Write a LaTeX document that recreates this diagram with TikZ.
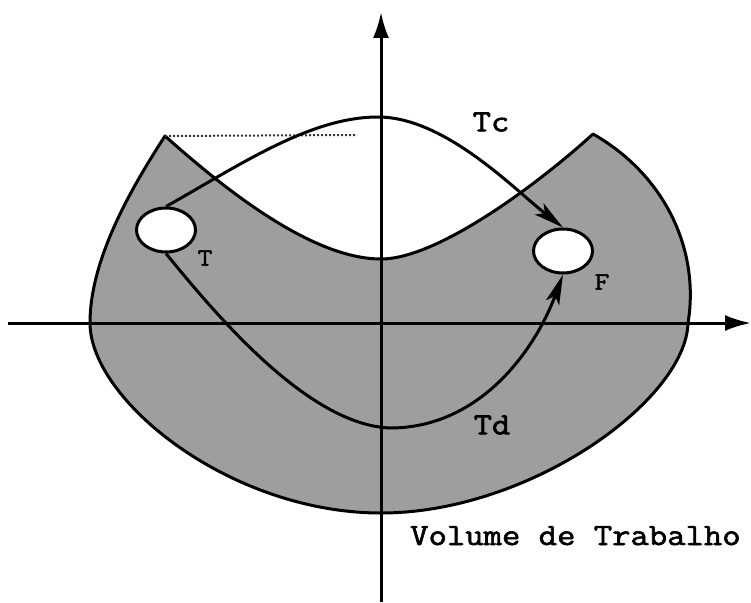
\documentclass[tikz,border=0pt]{standalone}
\usepackage{fontspec}
\newfontfamily\courfont[FakeStretch=1.15,FakeBold=2]{Latin Modern Mono}
\usetikzlibrary{arrows.meta,shapes.geometric}
\begin{document}
\begin{tikzpicture}[x=1pt,y=-1pt,
  outline/.style={line width=3pt, line join=round},
  region/.style={fill=black!38},
  axis/.style={line width=3pt, -{Latex[length=26pt,width=16pt]}},
  traj/.style={line width=3pt, -{Stealth[length=30pt,width=14pt,inset=7pt]}},
  hole/.style={ellipse, draw, line width=3pt, fill=white, minimum width=59pt, minimum height=44pt, inner sep=0pt},
  lbl/.style={font=\courfont\fontsize{31}{31}\selectfont, inner sep=0pt},
  smalllbl/.style={font=\courfont\fontsize{25}{25}\selectfont, inner sep=0pt},
  guide/.style={dotted, line width=2pt, black!80}]
\useasboundingbox (0,0) rectangle (751,602);
% key points
\coordinate (LA) at (165,136);
\coordinate (RA) at (593,134);
\coordinate (Lmid) at (90,323);
\coordinate (Bot) at (381,513);
\coordinate (Rmid) at (688,323);
\coordinate (Imin) at (381,259);
\coordinate (dotend) at (357,135);
% working volume
\filldraw[region, outline] (LA) .. controls (130,190) and (90,260) .. (Lmid)
  .. controls (90,400) and (230,513) .. (Bot)
  .. controls (530,513) and (686,400) .. (Rmid)
  .. controls (700,250) and (665,175) .. (RA)
  .. controls (545,178) and (440,259) .. (Imin)
  .. controls (310,259) and (220,185) .. (LA) -- cycle;
\draw[guide] (LA) -- (dotend);
% axes
\coordinate (ybot) at (381,602);
\coordinate (ytop) at (381,12);
\coordinate (xl) at (8,323);
\coordinate (xr) at (751,323);
\draw[axis] (ybot) -- (ytop);
\draw[axis] (xl) -- (xr);
% holes
\node[hole] (T) at (166,230) {};
\node[hole] (F) at (563,251) {};
% trajectories
\coordinate (tcpeak) at (378,117);
\coordinate (tdlow) at (390,428);
\draw[traj] (T.north) .. controls (240,165) and (310,117) .. (tcpeak)
  .. controls (445,117) and (515,190) .. (F.north);
\draw[traj] (T.south) .. controls (220,320) and (310,425) .. (tdlow)
  .. controls (480,428) and (535,350) .. (F.south);
% labels
\node[lbl] (tc) at (491,122) {Tc};
\node[lbl] (td) at (492,425) {Td};
\node[smalllbl] (tl) at (205,258) {T};
\node[smalllbl] (fl) at (602,282) {F};
\node[lbl, anchor=base west] (vol) at (410,545) {Volume de Trabalho};
\end{tikzpicture}
\end{document}
